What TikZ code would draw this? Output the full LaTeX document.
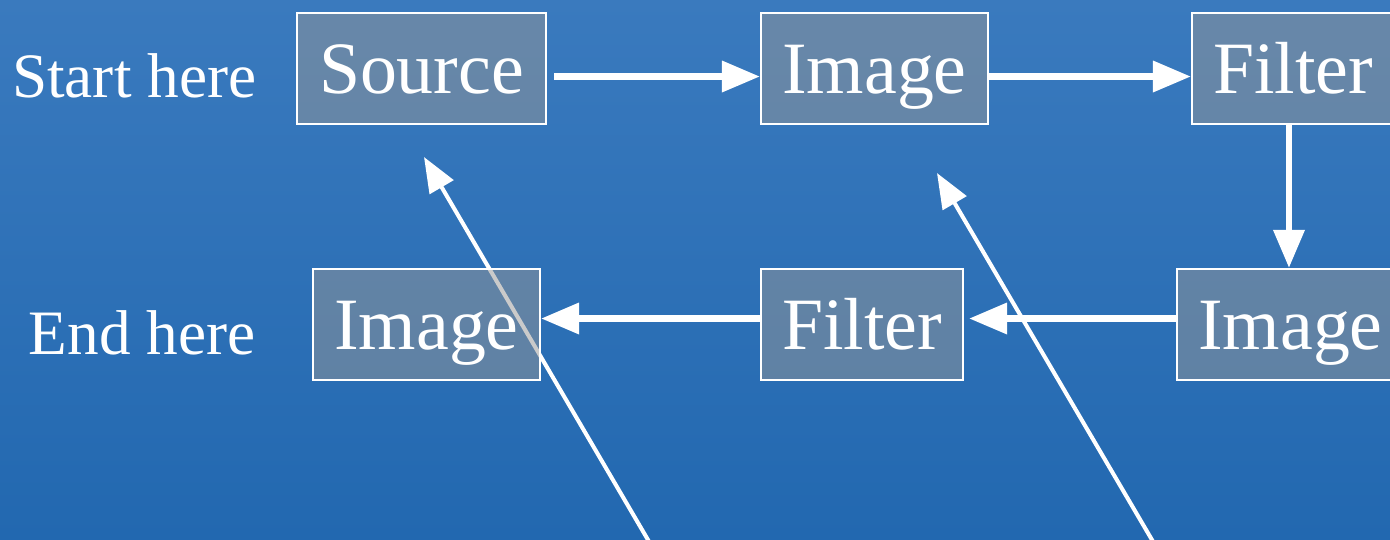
\documentclass[tikz,border=0pt]{standalone}
\usepackage{fontspec}
\setmainfont{Liberation Serif}
\usepackage{tikz}
\usetikzlibrary{arrows.meta,positioning}
\definecolor{bgtop}{RGB}{58,122,190}
\definecolor{bgbot}{RGB}{34,104,176}
\definecolor{boxgray}{RGB}{150,150,150}
\tikzstyle{boxy} = [rectangle, draw=white, line width=0.6pt, fill=boxgray,
fill opacity=0.5, text opacity=1, text=white, inner xsep=0pt, minimum
height=1.11cm, text height=0.5cm, text depth=0cm, font=\fontsize{21}{25}\selectfont]
\tikzstyle{lbl} = [text=white, inner sep=0pt, anchor=base east, font=\fontsize{18}{22}\selectfont]
\tikzstyle{arrow} = [white, line width=1.9pt, -{Triangle[length=0.38cm,width=0.3cm]}]
\tikzstyle{diag} = [white, line width=1.15pt, -{Triangle[length=0.35cm,width=0.27cm]}]

\begin{document}
\begin{tikzpicture}
        \useasboundingbox (0,0) rectangle (13.9,-5.39);
        \clip (0,0) rectangle (13.9,-5.39);
        \shade [top color=bgtop, bottom color=bgbot] (0,0) rectangle (13.9,-5.39);
        %
        \coordinate (dia) at (6.51,-5.45);
        \coordinate (diatip) at (4.24,-1.57);
        \coordinate (dib) at (11.55,-5.45);
        \coordinate (dibtip) at (9.37,-1.73);
        \draw [diag] (dia) -- (diatip);
        \draw [diag] (dib) -- (dibtip);
        %
        \node (start) [lbl] at (2.57,-0.97) {Start here};
        \node (end) [lbl] at (2.56,-3.54) {End here};
        \node (src) [boxy,minimum width=2.49cm] at (4.215,-0.685) {Source};
        \node (img) [boxy,minimum width=2.27cm] at (8.745,-0.685) {Image};
        \node (flt) [boxy,minimum width=2.02cm] at (12.93,-0.685) {Filter};
        \node (imgb) [boxy,minimum width=2.27cm] at (12.905,-3.245) {Image};
        \node (fltb) [boxy,minimum width=2.02cm] at (8.62,-3.245) {Filter};
        \node (imgc) [boxy,minimum width=2.27cm] at (4.265,-3.245) {Image};
        %
        \draw [arrow,shorten <=0.07cm] ([yshift=-0.08cm]src.east) -- ([yshift=-0.08cm]img.west);
        \draw [arrow] ([yshift=-0.08cm]img.east) -- ([yshift=-0.08cm]flt.west);
        \draw [arrow] ([xshift=-0.04cm]flt.south) -- ([xshift=-0.04cm]flt.south |- imgb.north);
        \draw [arrow,shorten >=0.05cm] ([yshift=0.06cm]imgb.west) -- ([yshift=0.06cm]fltb.east);
        \draw [arrow] ([yshift=0.06cm]fltb.west) -- ([yshift=0.06cm]imgc.east);
\end{tikzpicture}
\end{document}
